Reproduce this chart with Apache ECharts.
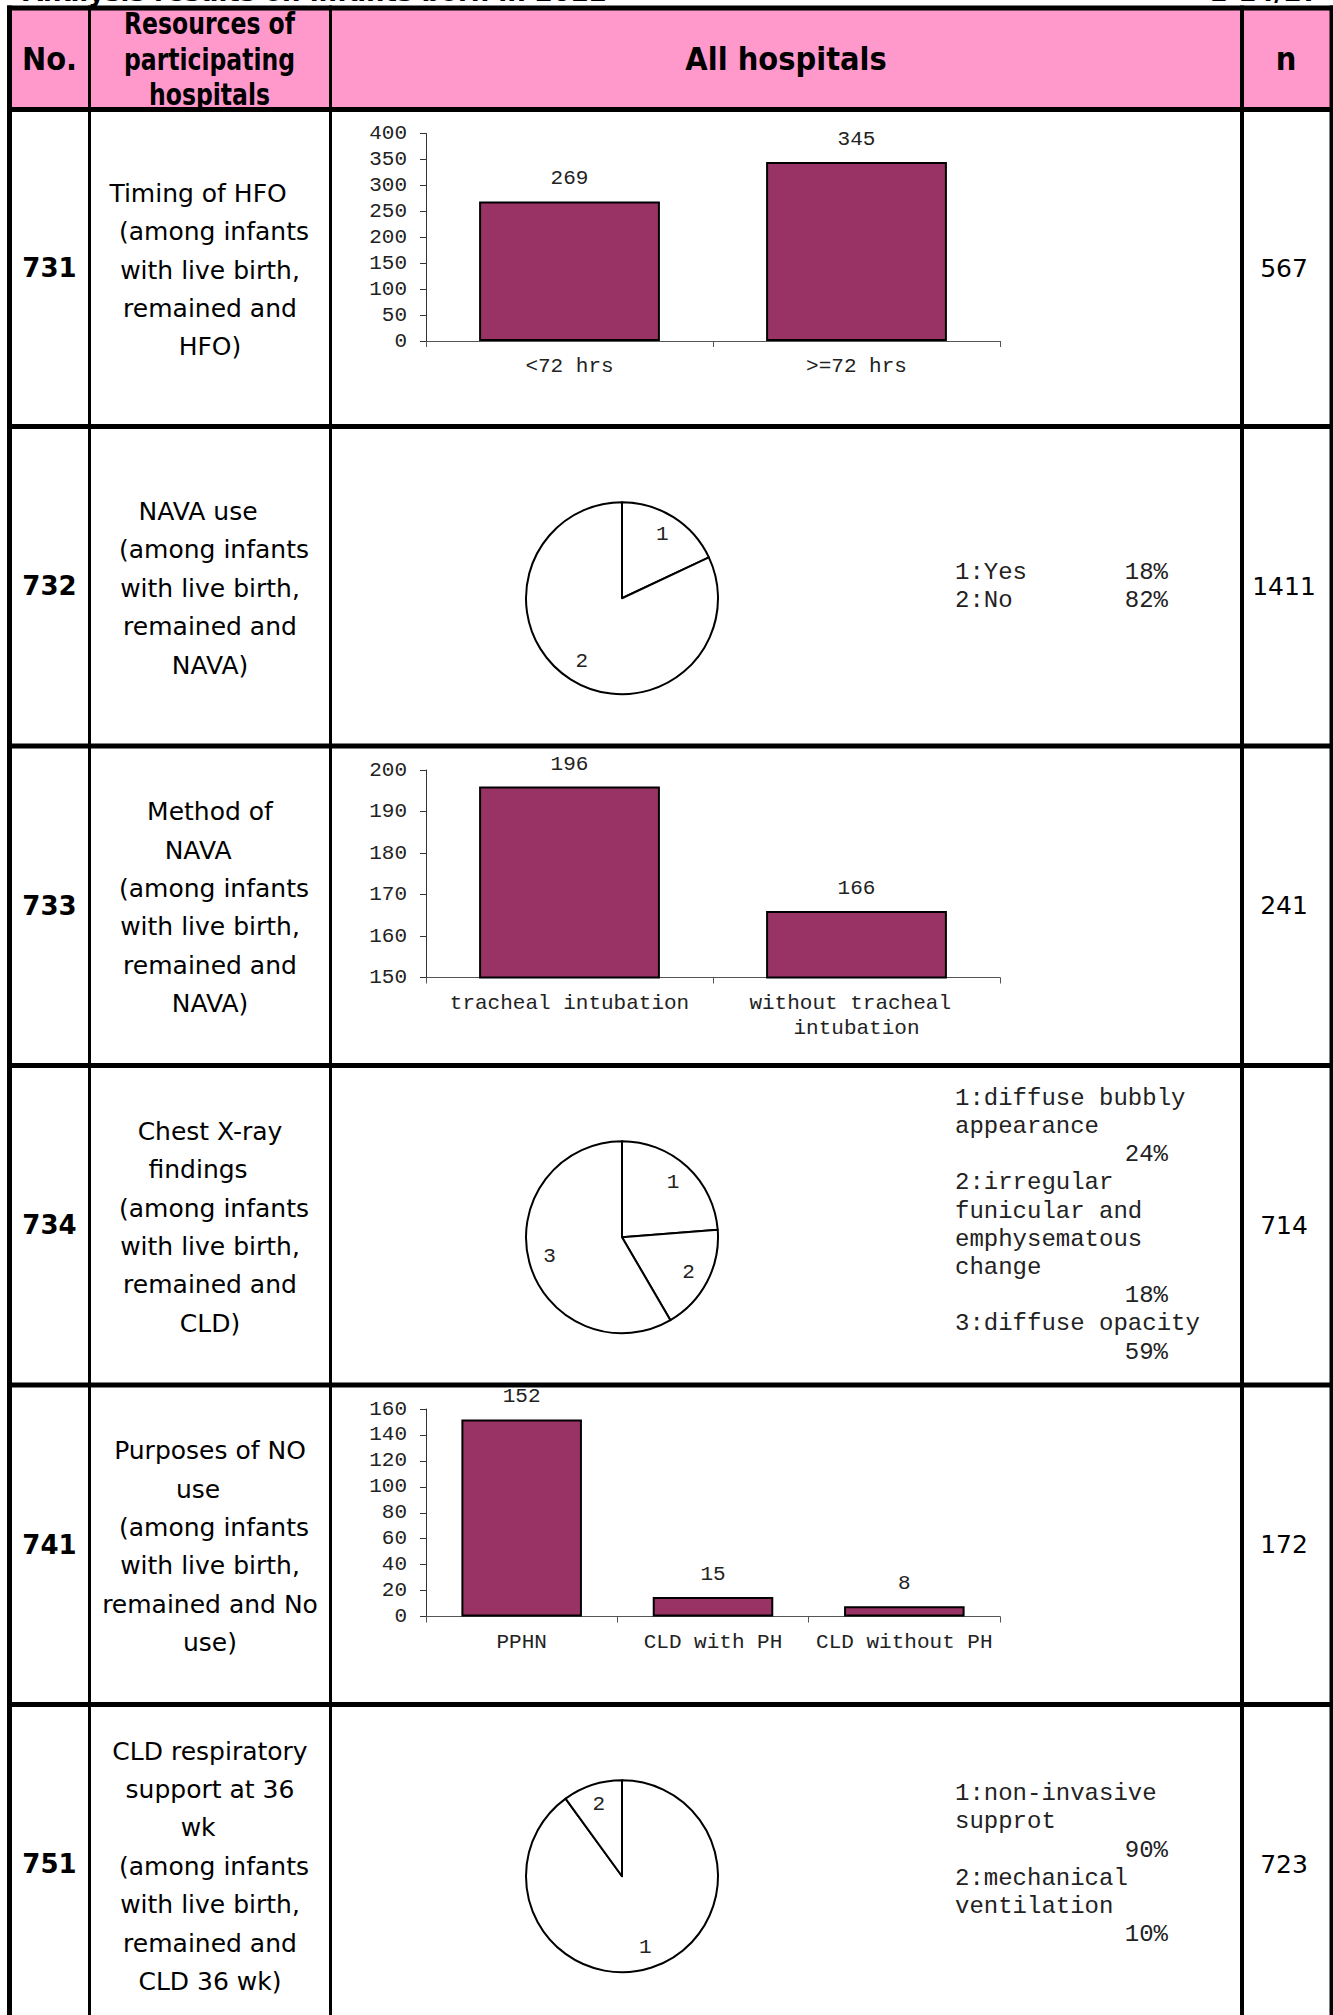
<!DOCTYPE html>
<html><head><meta charset="utf-8">
<script src="https://cdn.jsdelivr.net/npm/echarts@6/dist/echarts.min.js"></script>
<style>html,body{margin:0;padding:0;background:#fff;} #c{width:1333px;height:2015px;}</style>
</head><body><div id="c"></div>
<script>
// ---------------- DATA ----------------
const pageTitle = 'Analysis results on infants born in 2022';
const pageNo = '1-14/27';
const headerLabels = ['No.', 'Resources of\nparticipating\nhospitals', 'All hospitals', 'n'];
const rowNos = ['731', '732', '733', '734', '741', '751'];
const rowTitles = [
  ['Timing of HFO\u00a0\u00a0\u00a0', '\u00a0(among infants', 'with live birth,', 'remained and', 'HFO)'],
  ['NAVA use\u00a0\u00a0\u00a0', '\u00a0(among infants', 'with live birth,', 'remained and', 'NAVA)'],
  ['Method of', 'NAVA\u00a0\u00a0\u00a0', '\u00a0(among infants', 'with live birth,', 'remained and', 'NAVA)'],
  ['Chest X-ray', 'findings\u00a0\u00a0\u00a0', '\u00a0(among infants', 'with live birth,', 'remained and', 'CLD)'],
  ['Purposes of NO', 'use\u00a0\u00a0\u00a0', '\u00a0(among infants', 'with live birth,', 'remained and No', 'use)'],
  ['CLD respiratory', 'support at 36', 'wk\u00a0\u00a0\u00a0', '\u00a0(among infants', 'with live birth,', 'remained and', 'CLD 36 wk)']
];
const rowNs = ['567', '1411', '241', '714', '172', '723'];

// 731 Timing of HFO (bar)
const hfoCategories = ['<72 hrs', '>=72 hrs'];
const hfoValues = [269, 345];
const hfoTicks = [0, 50, 100, 150, 200, 250, 300, 350, 400];

// 732 NAVA use (pie, %)
const navaUseNames = ['Yes', 'No'];
const navaUsePct = [18, 82];

// 733 Method of NAVA (bar)
const navaMethodCategories = ['tracheal intubation', 'without tracheal intubation'];
const navaMethodValues = [196, 166];
const navaMethodTicks = [150, 160, 170, 180, 190, 200];

// 734 Chest X-ray findings (pie, %)
const xrayNames = ['diffuse bubbly appearance', 'irregular funicular and emphysematous change', 'diffuse opacity'];
const xrayPct = [24, 18, 59];

// 741 Purposes of NO use (bar)
const noPurposeCategories = ['PPHN', 'CLD with PH', 'CLD without PH'];
const noPurposeValues = [152, 15, 8];
const noPurposeTicks = [0, 20, 40, 60, 80, 100, 120, 140, 160];

// 751 CLD respiratory support at 36 wk (pie, %)
const cldSupportNames = ['non-invasive supprot', 'mechanical ventilation'];
const cldSupportPct = [90, 10];

// ---------------- LAYOUT ----------------
const MONO = "'Liberation Mono', 'DejaVu Sans Mono', monospace";
const SANS = "'DejaVu Sans', Verdana, sans-serif";
const rowLines = [109.5, 426.5, 746, 1065.5, 1385, 1704.5, 2024];
const colX = [9.5, 89.5, 330.5, 1242, 1332];
const rowTop = i => rowLines[i];
const rowMid = i => (rowLines[i] + rowLines[i + 1]) / 2;
const GRID_LEFT = 426, GRID_W = 574, GRID_H = 207.5;
const PIE_CX = 622, PIE_R = 96;
const LEG_X = 955, LEG_PCT_X = 1168, LEG_LH = 28.2;

const G = [];
const txt = (x, y, text, font, align, vAlign, extra) => {
  const el = { type: 'text', silent: true, x: x, y: y,
    style: Object.assign({ text: text, font: font, fill: '#000', align: align, verticalAlign: vAlign, textAlign: align, textVerticalAlign: vAlign }, (extra && extra.style) || {}) };
  if (extra) { ['scaleX', 'scaleY'].forEach(k => { if (extra[k] != null) el[k] = extra[k]; }); }
  G.push(el);
};
// header background
G.push({ type: 'rect', silent: true, shape: { x: 10, y: 8, width: 1322, height: 101.5 }, style: { fill: '#FF99CC' } });
// title (clipped at top of page, as in the source)
txt(23, 5, pageTitle, 'bold 26px ' + SANS, 'left', 'bottom', { scaleX: 1.0 });
txt(1320, 5, pageNo, 'bold 26px ' + SANS, 'right', 'bottom');

// header texts
const headerCenters = [(10 + 89) / 2, (89 + 330) / 2, (330 + 1242) / 2, (1242 + 1330) / 2];
headerLabels.forEach((t, i) => {
  if (i === 1) txt(headerCenters[i], 59, t, 'bold 28px ' + SANS, 'center', 'middle', { scaleX: 0.84, scaleY: 1.1, style: { lineHeight: 32 } });
  else txt(headerCenters[i], 58, t, 'bold 29px ' + SANS, 'center', 'middle', { scaleX: 1.0, scaleY: 1.12 });
});

// row texts
rowNos.forEach((no, i) => {
  const m = rowMid(i);
  txt(49.5, m, no, 'bold 26px ' + SANS, 'center', 'middle');
  txt(210, m + 2, rowTitles[i].join('\n'), '25px ' + SANS, 'center', 'middle', { style: { lineHeight: 38.4 } });
  txt(1284, m, rowNs[i], '25px ' + SANS, 'center', 'middle');
});

// legends next to pies
function wrapWords(s, w) {
  const words = s.split(' '); const out = []; let cur = '';
  words.forEach(wd => {
    if (!cur) cur = wd;
    else if ((cur + ' ' + wd).length <= w) cur += ' ' + wd;
    else { out.push(cur); cur = wd; }
  });
  if (cur) out.push(cur);
  return out;
}
function addLegend(names, pcts, rowIdx) {
  const items = [];
  names.forEach((nm, i) => {
    const label = (i + 1) + ':' + nm;
    const p = pcts[i] + '%';
    const lines = wrapWords(label, 17);
    if (lines.length === 1 && label.length + 1 + p.length <= 18) items.push({ t: label, p: p });
    else { lines.forEach(l => items.push({ t: l })); items.push({ t: '', p: p }); }
  });
  const top = rowMid(rowIdx) - items.length * LEG_LH / 2 + LEG_LH / 2;
  items.forEach((it, k) => {
    const y = top + k * LEG_LH;
    if (it.t) txt(LEG_X, y, it.t, '24px ' + MONO, 'left', 'middle', { style: { fill: '#222' } });
    if (it.p) txt(LEG_PCT_X, y, it.p, '24px ' + MONO, 'right', 'middle', { style: { fill: '#222' } });
  });
}
addLegend(navaUseNames, navaUsePct, 1);
addLegend(xrayNames, xrayPct, 3);
addLegend(cldSupportNames, cldSupportPct, 5);

// table lines
const hl = (y, w) => G.push({ type: 'line', silent: true, z: 10, shape: { x1: 7, y1: y, x2: 1333, y2: y }, style: { stroke: '#000', lineWidth: w } });
const vl = (x, w) => G.push({ type: 'line', silent: true, z: 10, shape: { x1: x, y1: 5.5, x2: x, y2: 2015 }, style: { stroke: '#000', lineWidth: w } });
hl(8, 5);
rowLines.forEach(y => hl(y, 5));
vl(colX[0], 5); vl(colX[1], 3); vl(colX[2], 3); vl(colX[3], 4); vl(colX[4], 5);

// ---------------- CHARTS ----------------
const barRows = [
  { row: 0, cats: hfoCategories, vals: hfoValues, ticks: hfoTicks },
  { row: 2, cats: navaMethodCategories, vals: navaMethodValues, ticks: navaMethodTicks },
  { row: 4, cats: noPurposeCategories, vals: noPurposeValues, ticks: noPurposeTicks }
];
const grids = [], xAxes = [], yAxes = [], series = [];
const axisText = { fontFamily: MONO, fontSize: 21, color: '#222' };
barRows.forEach((b, i) => {
  grids.push({ left: GRID_LEFT, top: rowTop(b.row) + 24, width: GRID_W, height: GRID_H, containLabel: false, outerBoundsMode: 'none' });
  xAxes.push({ type: 'category', gridIndex: i, data: b.cats,
    axisLine: { show: true, lineStyle: { color: '#555', width: 1 } },
    axisTick: { show: true, alignWithLabel: false, length: 6, lineStyle: { color: '#555' } },
    axisLabel: Object.assign({ interval: 0, margin: 13, width: GRID_W / b.cats.length - 10, overflow: 'break', lineHeight: 25.5 }, axisText),
    splitLine: { show: false } });
  yAxes.push({ type: 'value', gridIndex: i, min: b.ticks[0], max: b.ticks[b.ticks.length - 1], interval: b.ticks[1] - b.ticks[0],
    axisLine: { show: true, lineStyle: { color: '#333', width: 1 } },
    axisTick: { show: true, length: 6, lineStyle: { color: '#333' } },
    axisLabel: Object.assign({ margin: 19 }, axisText),
    splitLine: { show: false } });
  series.push({ type: 'bar', xAxisIndex: i, yAxisIndex: i, data: b.vals, barWidth: '63%',
    itemStyle: { color: '#993366', borderColor: '#000', borderWidth: 2 },
    label: Object.assign({ show: true, position: 'top', distance: 12 }, axisText),
    emphasis: { disabled: true }, silent: true });
});

const pieRows = [
  { row: 1, names: navaUseNames, vals: navaUsePct },
  { row: 3, names: xrayNames, vals: xrayPct },
  { row: 5, names: cldSupportNames, vals: cldSupportPct }
];
pieRows.forEach(p => {
  const data = p.names.map((n, k) => ({ name: String(k + 1), value: p.vals[k] }));
  const cy = rowMid(p.row) + 12;
  series.push({ type: 'pie', center: [PIE_CX, cy], radius: PIE_R, startAngle: 90, clockwise: true, data: data,
    itemStyle: { color: '#fff', borderColor: '#000', borderWidth: 2 },
    label: { show: false }, labelLine: { show: false }, emphasis: { disabled: true }, silent: true, avoidLabelOverlap: false });
  series.push({ type: 'pie', center: [PIE_CX, cy], radius: [PIE_R / 2, PIE_R], startAngle: 90, clockwise: true, data: data,
    itemStyle: { color: 'rgba(0,0,0,0)', borderWidth: 0 },
    label: Object.assign({ show: true, position: 'inside', formatter: '{b}' }, axisText),
    labelLine: { show: false }, emphasis: { disabled: true }, silent: true, avoidLabelOverlap: false, z: 3 });
});

const chart = echarts.init(document.getElementById('c'), null, { renderer: 'svg', width: 1333, height: 2015 });
chart.setOption({
  animation: false,
  backgroundColor: '#fff',
  grid: grids, xAxis: xAxes, yAxis: yAxes, series: series,
  graphic: { elements: G }
});
</script>
</body></html>
